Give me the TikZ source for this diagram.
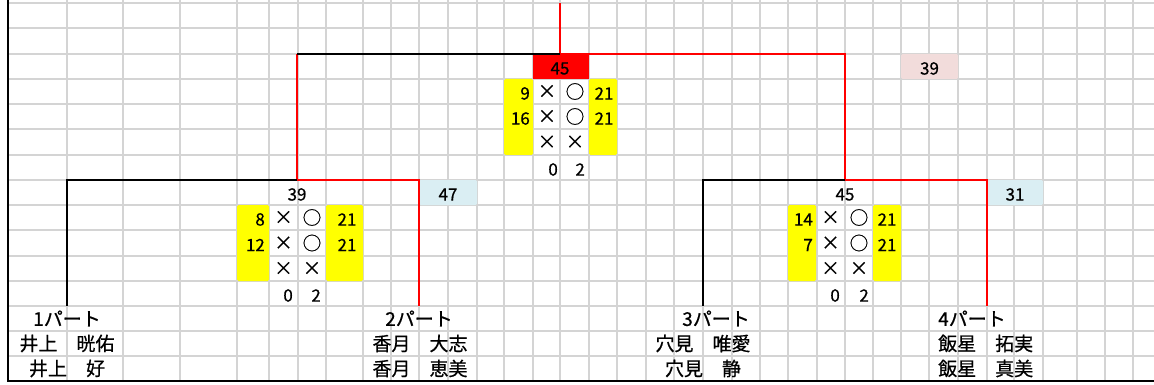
\documentclass[tikz,border=0pt]{standalone}
\usepackage{fontspec}
\newfontfamily\jp[FakeBold=0.6]{Noto Sans CJK JP}
\definecolor{gridgray}{RGB}{212,212,212}
\definecolor{pinkcell}{RGB}{242,220,219}
\definecolor{bluecell}{RGB}{218,238,243}
\definecolor{yellowcell}{RGB}{255,255,0}
\definecolor{redcell}{RGB}{255,0,0}
\begin{document}
\begin{tikzpicture}[x=1pt,y=-1pt,
  gridline/.style={draw=gridgray,line width=2pt},
  frameline/.style={draw=black,line width=2.4pt},
  winline/.style={draw=red,line width=2.8pt},
  loseline/.style={draw=black,line width=2.8pt},
  num/.style={font=\jp\fontsize{17}{17}\selectfont,inner sep=0pt,yshift=-2pt},
  sym/.style={font=\jp\fontsize{18.5}{18.5}\selectfont,inner sep=0pt},
  jtext/.style={font=\jp\fontsize{19}{19}\selectfont,inner sep=0pt}
]
\useasboundingbox (0,0) rectangle (1154,385);
\fill[white] (0,0) rectangle (1154,385);
% grid
\foreach \yy in {3,28,54,79,104,129,155,180,205,230,256,281,306,331,356}
  \draw[gridline] (8,\yy) -- (1154,\yy);
\foreach \xx in {67,123,180,237,269,298,326,363,391,419,448,477,504,533,560,589,617,646,674,703,732,760,788,817,845,873,901,929,958,987,1014,1043,1077,1105,1133}
  \draw[gridline] (\xx,0) -- (\xx,381);
% frame
\draw[frameline] (8,0) -- (8,381) -- (1154,381);
% coloured cells
\fill[redcell] (533,54) rectangle (589,79);
\fill[pinkcell,rounded corners=1.5pt] (901,54) rectangle (958,79);
\fill[bluecell,rounded corners=1.5pt] (419,180) rectangle (477,205);
\fill[bluecell,rounded corners=1.5pt] (987,180) rectangle (1043,205);
\fill[yellowcell,rounded corners=1.5pt] (504,79) rectangle (533,155);
\fill[yellowcell,rounded corners=1.5pt] (589,79) rectangle (617,155);
\fill[yellowcell,rounded corners=1.5pt] (237,205) rectangle (269,281);
\fill[yellowcell,rounded corners=1.5pt] (326,205) rectangle (363,281);
\fill[yellowcell,rounded corners=1.5pt] (788,205) rectangle (816,281);
\fill[yellowcell,rounded corners=1.5pt] (873,205) rectangle (901,281);
% bracket coordinates
\coordinate (top) at (560,3);
\coordinate (fj) at (560,54);
\coordinate (fl) at (297,54);
\coordinate (fr) at (845,54);
\coordinate (sl) at (297,180);
\coordinate (sr) at (845,180);
\coordinate (l1) at (67,180);
\coordinate (l1b) at (67,306);
\coordinate (l2) at (419,180);
\coordinate (l2b) at (419,306);
\coordinate (r3) at (703,180);
\coordinate (r3b) at (703,306);
\coordinate (r4) at (987,180);
\coordinate (r4b) at (987,306);
% bracket lines
\draw[winline] (top) -- (fj);
\draw[winline] (fj) -- (fr) -- (sr);
\draw[winline] (fl) -- (sl);
\draw[loseline] (fj) -- (fl);
\draw[winline] (sl) -- (l2) -- (l2b);
\draw[loseline] (sl) -- (l1) -- (l1b);
\draw[winline] (sr) -- (r4) -- (r4b);
\draw[loseline] (sr) -- (r3) -- (r3b);
% final
\node[num] (f45) at (560,66.5) {45};
\node[num] (p39) at (929.5,66.5) {39};
\node[num,anchor=east] (f9) at (530,91.5) {9};
\node[num,anchor=east] (f16) at (530,116.5) {16};
\node[sym] (fx1) at (547,91.5) {×};
\node[sym] (fx2) at (547,116.5) {×};
\node[sym] (fx3) at (547,142) {×};
\node[sym] (fo1) at (575,91.5) {○};
\node[sym] (fo2) at (575,116.5) {○};
\node[sym] (fx4) at (575,142) {×};
\node[num] (f21a) at (604,91.5) {21};
\node[num] (f21b) at (604,116.5) {21};
\node[num,anchor=east] (f0) at (558,167.5) {0};
\node[num,anchor=east] (f2) at (585,167.5) {2};
% left semi
\node[num] (l39) at (297,192.5) {39};
\node[num] (b47) at (448,192.5) {47};
\node[num,anchor=east] (l8) at (265,217.5) {8};
\node[num,anchor=east] (l12) at (265,243) {12};
\node[sym] (lx1) at (283.5,217.5) {×};
\node[sym] (lx2) at (283.5,243) {×};
\node[sym] (lx3) at (283.5,268.5) {×};
\node[sym] (lo1) at (312,217.5) {○};
\node[sym] (lo2) at (312,243) {○};
\node[sym] (lx4) at (312,268.5) {×};
\node[num] (l21a) at (347,217.5) {21};
\node[num] (l21b) at (347,243) {21};
\node[num,anchor=east] (l0) at (293,293.5) {0};
\node[num,anchor=east] (l2n) at (321,293.5) {2};
% right semi
\node[num] (r45) at (845,192.5) {45};
\node[num] (b31) at (1015,192.5) {31};
\node[num,anchor=east] (r14) at (813,217.5) {14};
\node[num,anchor=east] (r7) at (813,243) {7};
\node[sym] (rx1) at (830.5,217.5) {×};
\node[sym] (rx2) at (830.5,243) {×};
\node[sym] (rx3) at (830.5,268.5) {×};
\node[sym] (ro1) at (859,217.5) {○};
\node[sym] (ro2) at (859,243) {○};
\node[sym] (rx4) at (859,268.5) {×};
\node[num] (r21a) at (887,217.5) {21};
\node[num] (r21b) at (887,243) {21};
\node[num,anchor=east] (r0) at (840,293.5) {0};
\node[num,anchor=east] (r2n) at (869,293.5) {2};
% labels
\node[jtext] (p1) at (67,318.5) {1パート};
\node[jtext] (p1a) at (67,343.5) {井上　晄佑};
\node[jtext] (p1b) at (67,368.5) {井上　好};
\node[jtext] (p2) at (419,318.5) {2パート};
\node[jtext] (p2a) at (420,343.5) {香月　大志};
\node[jtext] (p2b) at (420,368.5) {香月　恵美};
\node[jtext] (p3) at (716,318.5) {3パート};
\node[jtext] (p3a) at (703,343.5) {穴見　唯愛};
\node[jtext] (p3b) at (703,368.5) {穴見　静};
\node[jtext,anchor=west] (p4) at (938,318.5) {4パート};
\node[jtext,anchor=west] (p4a) at (938,343.5) {飯星　拓実};
\node[jtext,anchor=west] (p4b) at (938,368.5) {飯星　真美};
\end{tikzpicture}
\end{document}
